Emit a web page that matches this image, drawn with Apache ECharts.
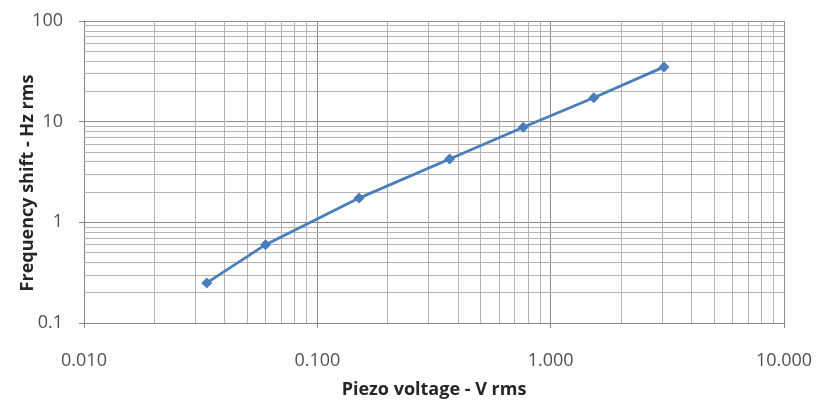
<!DOCTYPE html>
<html>
<head>
<meta charset="utf-8">
<script src="https://cdn.jsdelivr.net/npm/echarts@6/dist/echarts.min.js"></script>
<style>html,body{margin:0;padding:0;background:#fff}#c{width:819px;height:401px}</style>
</head>
<body>
<div id="c"></div>
<script>
// Data
const voltage = [0.0336, 0.060, 0.151, 0.369, 0.763, 1.53, 3.06];
const freqShift = [0.25, 0.60, 1.74, 4.25, 8.8, 17.3, 35.0];
const xMinorGrid = [0.02,0.03,0.04,0.05,0.06,0.07,0.08,0.09,0.2,0.3,0.4,0.5,0.6,0.7,0.8,0.9,2,3,4,5,6,7,8,9];
const yMinorGrid = [0.2,0.3,0.4,0.5,0.6,0.7,0.8,0.9,2,3,4,5,6,7,8,9,20,30,40,50,60,70,80,90];
const xTitle = 'Piezo voltage - V rms';
const yTitle = 'Frequency shift - Hz rms';

const font = '"Open Sans", "Liberation Sans", Arial, sans-serif';
const chart = echarts.init(document.getElementById('c'), null, {renderer: 'canvas'});
const minorLines = [].concat(
  xMinorGrid.map(v => ({xAxis: v})),
  yMinorGrid.map(v => ({yAxis: v}))
);
chart.setOption({
  animation: false,
  backgroundColor: '#ffffff',
  grid: {left: 84, right: 35, top: 21, bottom: 78, containLabel: false, outerBoundsMode: 'none'},
  xAxis: {
    type: 'log', logBase: 10, min: 0.01, max: 10,
    name: xTitle, nameLocation: 'middle', nameGap: 58, nameMoveOverlap: false,
    nameTextStyle: {fontFamily: font, fontWeight: 'bold', fontSize: 18, color: '#262626'},
    axisLine: {show: true, lineStyle: {color: '#868686', width: 1}},
    axisTick: {show: true, length: 5, lineStyle: {color: '#868686'}},
    axisLabel: {fontFamily: font, fontSize: 18, color: '#505050', margin: 29,
      formatter: v => Number(v).toFixed(3)},
    splitLine: {show: true, lineStyle: {color: '#8c8c8c', width: 1}},
    minorTick: {show: false}, minorSplitLine: {show: false}
  },
  yAxis: {
    type: 'log', logBase: 10, min: 0.1, max: 100,
    name: yTitle, nameLocation: 'middle', nameGap: 47, nameRotate: 90, nameMoveOverlap: false,
    nameTextStyle: {fontFamily: font, fontWeight: 'bold', fontSize: 18, color: '#262626',
      padding: [0, 22, 0, 0]},
    axisLine: {show: true, lineStyle: {color: '#868686', width: 1}},
    axisTick: {show: true, length: 5, lineStyle: {color: '#868686'}},
    axisLabel: {fontFamily: font, fontSize: 18, color: '#505050', margin: 21,
      formatter: v => { const n = Number(v); return n >= 1 ? String(Math.round(n)) : n.toFixed(1); }},
    splitLine: {show: true, lineStyle: {color: '#8c8c8c', width: 1}}
  },
  series: [
    {
      type: 'line', data: [], z: 1, silent: true,
      markLine: {
        silent: true, symbol: ['none', 'none'], label: {show: false},
        lineStyle: {color: '#b4b4b4', width: 1, type: 'solid'},
        emphasis: {disabled: true},
        data: minorLines
      }
    },
    {
      type: 'line', z: 5,
      data: voltage.map((v, i) => [v, freqShift[i]]),
      symbol: 'diamond', symbolSize: 11,
      lineStyle: {color: '#4a7ebb', width: 2.8},
      itemStyle: {color: '#4a7ebb'}
    }
  ]
});
</script>
</body>
</html>
